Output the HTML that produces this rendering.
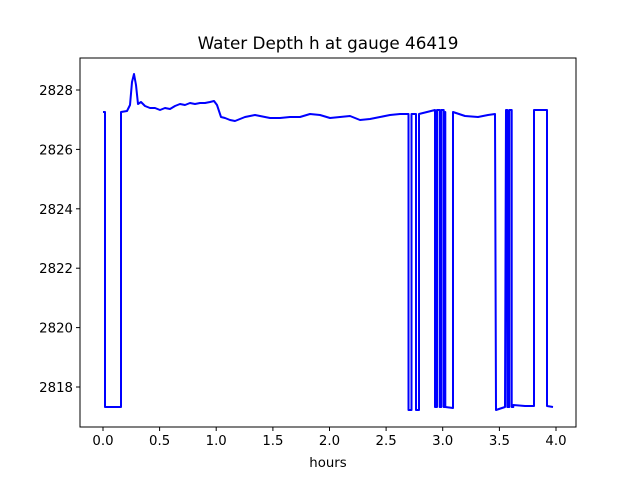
<!DOCTYPE html>
<html><head><meta charset="utf-8"><style>
body{margin:0;background:#fff;}
svg{display:block;font-family:"DejaVu Sans","Liberation Sans",sans-serif;}
</style></head><body>
<svg width="640" height="480" viewBox="0 0 640 480">
<rect x="0" y="0" width="640" height="480" fill="#fff"/>
<text x="328" y="49" font-size="16.8" text-anchor="middle" fill="#000">Water Depth h at gauge 46419</text>
<polyline fill="none" stroke="#0000ff" stroke-width="2" stroke-linejoin="round" points="
103,112 105,112 105,407 121,407 121,112 127,111 130,105 132,82 134,74 136,85 138,104 141,102 145,106 150,108 155,108 160,110 165,108 170,109 175,106 180,104 185,105 190,103 195,104 200,103 205,103 210,102 214,101 217,105 221,117 225,118 230,120 235,121 240,119 245,117 250,116 255,115 260,116 270,118 280,118 290,117 300,117 310,114 320,115 330,118 340,117 350,116 360,120 370,119 380,117 390,115 400,114 408.5,114 408.5,410 411.5,410 411.5,114 416,114 416,410 419,410 419,114 435,110 435,407 437,407 437,110 439.7,110 439.7,407 441.3,407 441.3,110 443.7,110 443.7,407 445.3,407 445.3,112 445.3,407 453,408 453,112 465,116 478,117 488,115 495,114 496,410 505,407 506,110 507.3,110 507.3,407 509.3,407 509.3,110 511.7,110 511.7,407 513.3,407 513.3,405 525,406 534,406 534,110 547,110 547,406 553,407"/>
<rect x="80" y="58" width="496" height="369" fill="none" stroke="#000" stroke-width="1"/>
<g stroke="#000" stroke-width="1">
<line x1="103" y1="427" x2="103" y2="431"/><line x1="159.6" y1="427" x2="159.6" y2="431"/><line x1="216.2" y1="427" x2="216.2" y2="431"/><line x1="272.9" y1="427" x2="272.9" y2="431"/><line x1="329.5" y1="427" x2="329.5" y2="431"/><line x1="386.1" y1="427" x2="386.1" y2="431"/><line x1="442.7" y1="427" x2="442.7" y2="431"/><line x1="499.4" y1="427" x2="499.4" y2="431"/><line x1="556" y1="427" x2="556" y2="431"/>
<line x1="76" y1="90" x2="80" y2="90"/><line x1="76" y1="149.4" x2="80" y2="149.4"/><line x1="76" y1="208.8" x2="80" y2="208.8"/><line x1="76" y1="268.2" x2="80" y2="268.2"/><line x1="76" y1="327.6" x2="80" y2="327.6"/><line x1="76" y1="387" x2="80" y2="387"/>
</g>
<g font-size="13.3" fill="#000" text-anchor="middle">
<text x="103" y="445">0.0</text><text x="159.6" y="445">0.5</text><text x="216.2" y="445">1.0</text><text x="272.9" y="445">1.5</text><text x="329.5" y="445">2.0</text><text x="386.1" y="445">2.5</text><text x="442.7" y="445">3.0</text><text x="499.4" y="445">3.5</text><text x="556" y="445">4.0</text>
<text x="328" y="467">hours</text>
</g>
<g font-size="13.3" fill="#000" text-anchor="end">
<text x="73" y="95">2828</text><text x="73" y="154.4">2826</text><text x="73" y="213.8">2824</text><text x="73" y="273.2">2822</text><text x="73" y="332.6">2820</text><text x="73" y="392">2818</text>
</g>
</svg>
</body></html>
